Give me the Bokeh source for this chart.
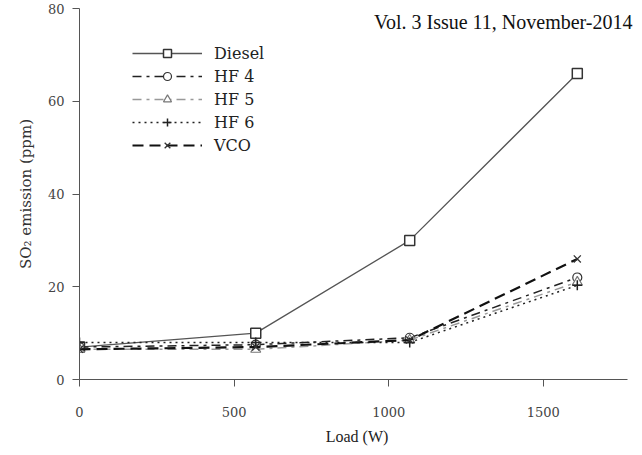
from bokeh.plotting import figure
from bokeh.models import Legend, LegendItem, Label, Range1d, FixedTicker
from bokeh.embed import file_html
from bokeh.resources import INLINE

load = [0, 570, 1068, 1610]
diesel = [7.0, 10.0, 30.0, 66.0]
hf4 = [7.0, 7.5, 9.0, 22.0]
hf5 = [6.5, 6.5, 8.5, 21.0]
hf6 = [8.0, 8.0, 8.0, 20.3]
vco = [6.5, 7.0, 8.5, 26.0]

x_ticks = [0, 500, 1000, 1500]
y_ticks = [0, 20, 40, 60, 80]

SERIF = "Liberation Serif"
WIDE = "DejaVu Serif"

p = figure(width=634, height=447, output_backend="svg", toolbar_location=None,
           x_range=Range1d(0, 1795), y_range=Range1d(0, 80),
           min_border_left=79, min_border_right=0, min_border_top=8, min_border_bottom=66)
p.outline_line_color = None
p.grid.grid_line_color = None
p.background_fill_color = "white"

for ax in (p.xaxis[0], p.yaxis[0]):
    ax.axis_line_color = "#555555"
    ax.major_tick_line_color = "#555555"
    ax.minor_tick_line_color = None
    ax.major_tick_in = 0
    ax.major_tick_out = 7
    ax.major_label_text_font = WIDE
    ax.major_label_text_font_size = "13px"
    ax.major_label_text_color = "#444444"
    ax.axis_label_text_font_style = "normal"
    ax.axis_label_text_color = "#222222"

p.xaxis.bounds = (0, 1772)
p.xaxis.ticker = FixedTicker(ticks=x_ticks)
p.yaxis.ticker = FixedTicker(ticks=y_ticks)
p.xaxis.axis_label = "Load (W)"
p.xaxis.axis_label_text_font = SERIF
p.xaxis.axis_label_text_font_size = "16px"
p.yaxis.axis_label = "SO\u2082 emission (ppm)"
p.yaxis.axis_label_text_font = WIDE
p.yaxis.axis_label_text_font_size = "15px"
p.yaxis.axis_label_text_color = "#333333"
p.xaxis.major_label_standoff = 20
p.yaxis.major_label_standoff = 8
p.xaxis.axis_label_standoff = 8
p.yaxis.axis_label_standoff = 10

items = []
l = p.line(load, diesel, line_color="#555555", line_width=1.3)
m = p.scatter(load, diesel, marker="square", size=10, fill_color="white", line_color="#333333", line_width=1.5)
items.append(LegendItem(label="Diesel", renderers=[l, m]))

l = p.line(load, hf4, line_color="#222222", line_width=1.5, line_dash="9 5 3 5")
m = p.scatter(load, hf4, marker="circle", size=9, fill_color="white", line_color="#333333", line_width=1.2)
items.append(LegendItem(label="HF 4", renderers=[l, m]))

l = p.line(load, hf5, line_color="#999999", line_width=1.5, line_dash="9 5 3 5")
m = p.scatter(load, hf5, marker="triangle", size=10, fill_color="white", line_color="#777777", line_width=1.2)
items.append(LegendItem(label="HF 5", renderers=[l, m]))

l = p.line(load, hf6, line_color="#222222", line_width=1.5, line_dash="2 4")
m = p.scatter(load, hf6, marker="cross", size=10, line_color="#222222", line_width=1.5)
items.append(LegendItem(label="HF 6", renderers=[l, m]))

l = p.line(load, vco, line_color="#111111", line_width=2.2, line_dash="11 6")
m = p.scatter(load, vco, marker="x", size=10, line_color="#333333", line_width=1.3)
items.append(LegendItem(label="VCO", renderers=[l, m]))

legend = Legend(items=items, location=(53, 224), glyph_width=70, glyph_height=20,
                label_height=20, spacing=3, padding=0, margin=0,
                label_text_font=WIDE, label_text_font_size="16px",
                label_text_font_style="normal",
                label_text_color="#222222", border_line_color=None,
                background_fill_alpha=0, label_standoff=12)
p.add_layout(legend, "center")

p.add_layout(Label(x=553, y=358, x_units="screen", y_units="screen", text="Vol. 3 Issue 11, November-2014",
                   text_font=SERIF, text_font_size="20px", text_align="right", text_baseline="middle",
                   text_color="#111111"))

open("out.html", "w").write(file_html(p, INLINE))
